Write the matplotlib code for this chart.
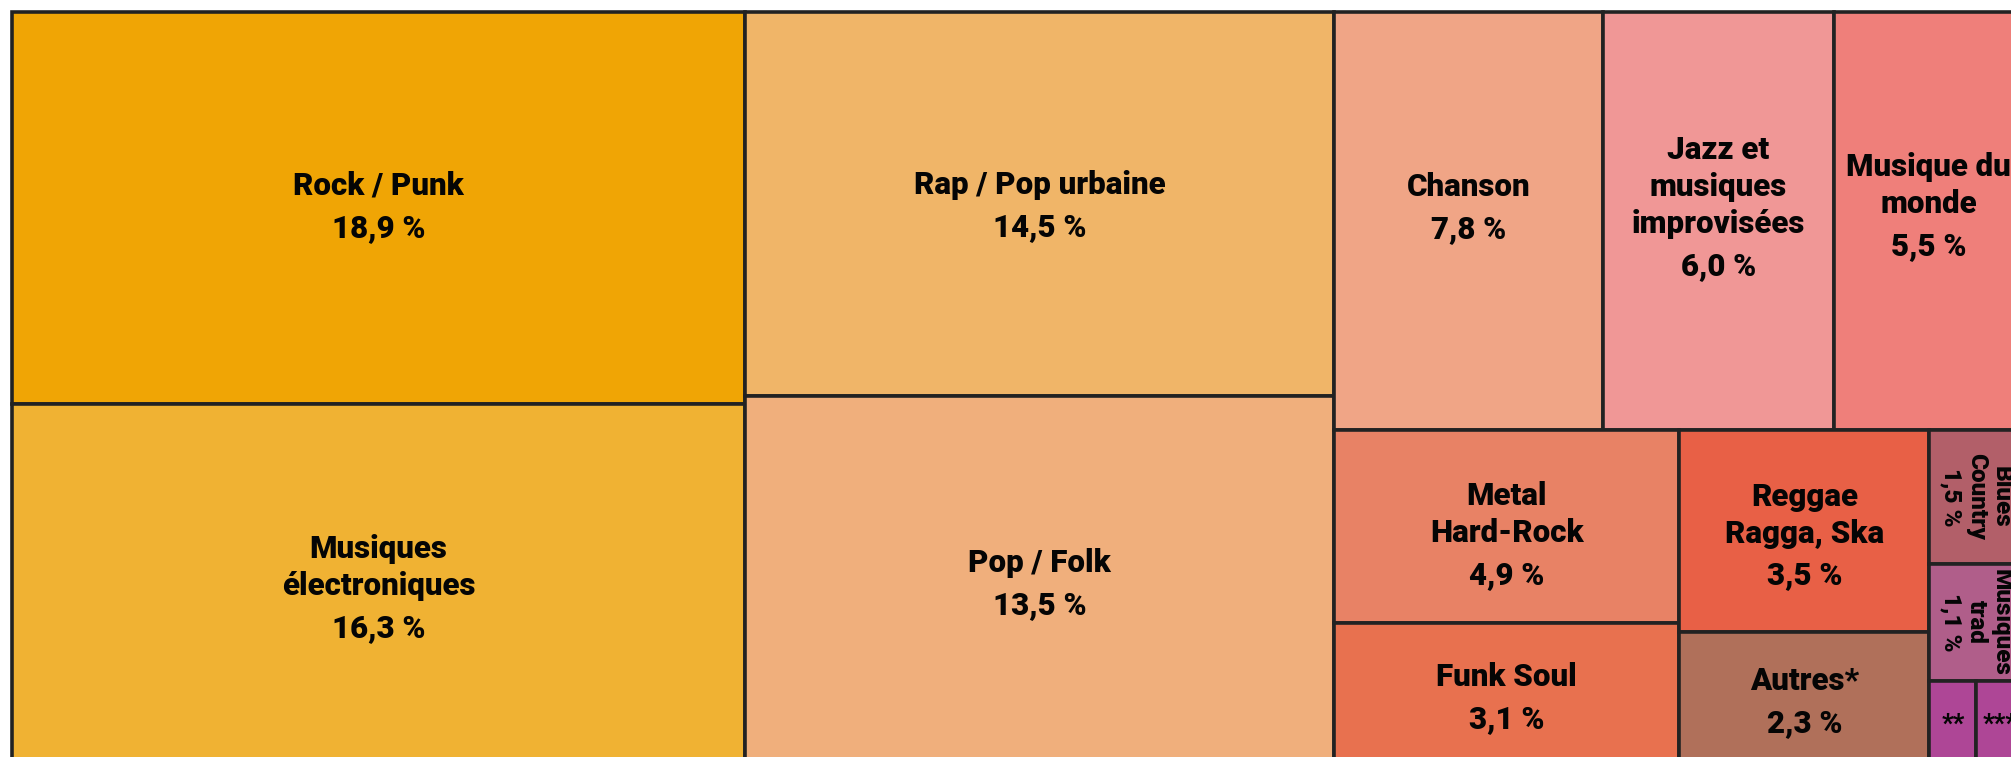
import matplotlib
matplotlib.use("Agg")
import matplotlib.pyplot as plt
from matplotlib.patches import Rectangle

# ---- data -------------------------------------------------------------
genres = ["Rock / Punk", "Musiques\nélectroniques", "Rap / Pop urbaine", "Pop / Folk",
          "Chanson", "Jazz et\nmusiques\nimprovisées", "Musique du\nmonde",
          "Metal\nHard-Rock", "Funk Soul", "Reggae\nRagga, Ska", "Autres*",
          "Blues\nCountry", "Musiques\ntrad", "**", "***"]
pourcentages = [18.9, 16.3, 14.5, 13.5, 7.8, 6.0, 5.5, 4.9, 3.1, 3.5, 2.3, 1.5, 1.1, None, None]
# areas of the tiles as read on the picture (share of the whole treemap, %)
aires = [18.90, 17.55, 14.88, 14.41, 7.40, 6.35, 5.20, 4.37, 3.30, 3.31, 2.25, 0.82, 0.72, 0.27, 0.27]
couleurs = ["#F0A505", "#F0B233", "#F0B568", "#F0AF7C", "#F0A586", "#F09796", "#EF7F7A",
            "#E88265", "#E8714F", "#E86046", "#B0705A", "#B25F69", "#B05E8A", "#AE4696", "#AE4696"]
verticaux = [11, 12]  # labels written vertically

# nesting of the tiles: 'h' = side by side, 'v' = stacked
structure = ("h", [("v", [0, 1]),
                   ("v", [2, 3]),
                   ("v", [("h", [4, 5, 6]),
                          ("h", [("v", [7, 8]),
                                 ("v", [9, 10]),
                                 ("v", [11, 12, ("h", [13, 14])])])])])

# label nudges (px, vertical) to follow the original placement
decalage = {0: -3, 4: -15, 5: -15, 6: -16, 7: 7, 9: 3}

# ---- layout -------------------------------------------------------------
def poids(node):
    if isinstance(node, int):
        return aires[node]
    return sum(poids(c) for c in node[1])

rects = {}

def disposer(node, x, y, w, h):
    if isinstance(node, int):
        rects[node] = (x, y, w, h)
        return
    sens, enfants = node
    total = poids(node)
    pos = 0.0
    for c in enfants:
        f = poids(c) / total
        if sens == "h":
            disposer(c, x + pos * w, y, f * w, h)
        else:
            disposer(c, x, y + pos * h, w, f * h)
        pos += f

W, H = 2011, 757
disposer(structure, 0, 0, W, H)

# ---- drawing ------------------------------------------------------------
fig = plt.figure(figsize=(20.11, 7.57), dpi=100)
ax = fig.add_axes([0, 0, 1, 1])
ax.set_xlim(-12, W - 12)
ax.set_ylim(H - 11.5, -11.5)
ax.axis("off")

FS = 22.5                 # pt
FPX = FS * 100 / 72       # px
CAP = 0.71 * FPX
PAS_NOM = 37              # px between name lines
PAS_PCT = 42              # px before the percentage line
POIDS = "black"
police = dict(fontsize=FS, fontweight=POIDS, family="Roboto", color="#050505",
              ha="center", va="baseline")

for i, (x, y, w, h) in rects.items():
    ax.add_patch(Rectangle((x, y), w, h, facecolor=couleurs[i], edgecolor="#222222",
                           linewidth=2.6, joinstyle="miter"))
    cx, cy = x + w / 2, y + h / 2 + decalage.get(i, 0)
    if i in verticaux:
        texte = genres[i] + "\n" + f"{pourcentages[i]:.1f}".replace(".", ",") + " %"
        ax.text(cx, cy, texte, rotation=-90, ha="center", va="center",
                fontsize=17.5, fontweight=POIDS, family="Roboto", color="#050505",
                linespacing=1.1, multialignment="center", rotation_mode="anchor")
    elif pourcentages[i] is None:
        ax.text(cx, cy, genres[i], ha="center", va="center",
                fontsize=18, fontweight=POIDS, family="Roboto", color="#050505")
    else:
        lignes = genres[i].split("\n")
        lignes.append(f"{pourcentages[i]:.1f}".replace(".", ",") + " %")
        offs = [k * PAS_NOM for k in range(len(lignes) - 1)]
        offs.append(offs[-1] + PAS_PCT)
        milieu = (offs[0] + offs[-1]) / 2
        for ligne, o in zip(lignes, offs):
            ax.text(cx, cy + (o - milieu) + CAP / 2, ligne, **police)

fig.savefig("out.png", dpi=100, facecolor="white")
